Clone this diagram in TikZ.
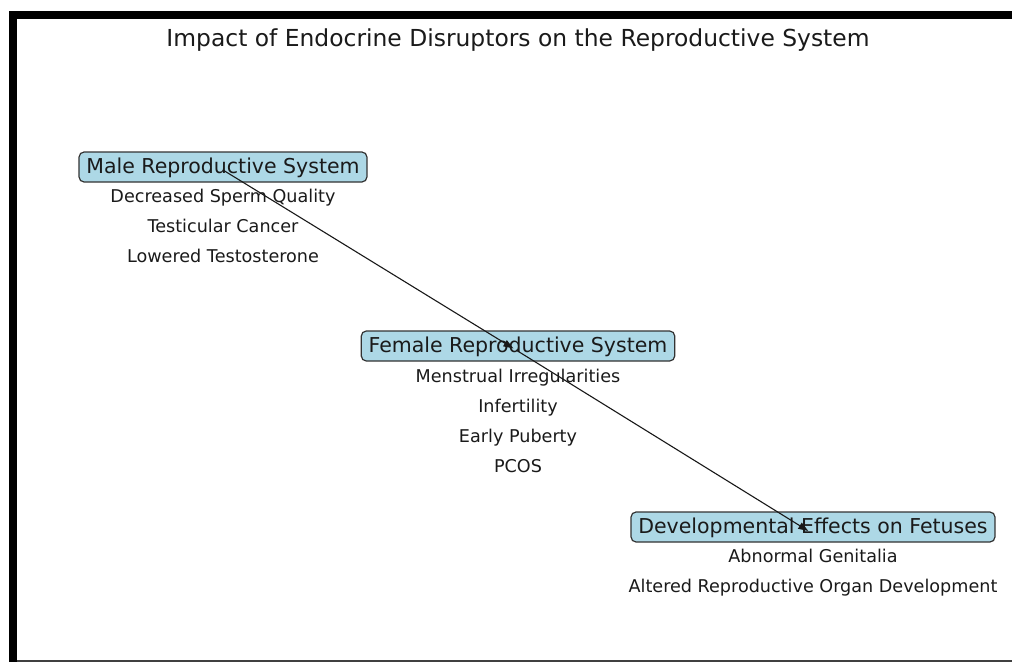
\documentclass[tikz,border=0pt]{standalone}
\usepackage{fontspec}
\setmainfont{DejaVu Sans}
\usetikzlibrary{arrows.meta}
\definecolor{lightblue}{HTML}{ADD8E6}
\definecolor{txt}{HTML}{1A1A1A}
\begin{document}
\begin{tikzpicture}[x=1pt,y=-1pt,
  box/.style={draw=black!80,line width=1.2pt,fill=lightblue,rounded corners=5pt,
    inner xsep=7.3pt,inner ysep=0pt,minimum height=30pt,text=txt,
    font=\fontsize{20.5}{24}\selectfont,text height=15.8pt,text depth=3pt},
  item/.style={inner sep=0pt,text=txt,font=\fontsize{17.6}{21}\selectfont,
    text height=12.8pt,text depth=3.4pt},
  conn/.style={-{Triangle[length=10pt,width=7pt]},line width=1.1pt,black!90}]
\useasboundingbox (0,0) rectangle (1012,662);
\fill[white] (0,0) rectangle (1012,662);
% frame
\fill[black] (9,11) rectangle (1012,19);
\fill[black] (9,11) rectangle (17,662);
\draw[black!75,line width=1.5pt] (17,661) -- (1012,661);
% title
\node[inner sep=0pt,text=txt,font=\fontsize{23.4}{28}\selectfont,text height=17pt,text depth=4.5pt] (title) at (518,40) {Impact of Endocrine Disruptors on the Reproductive System};
% boxes
\node[box] (male) at (223,167) {Male Reproductive System};
\node[item] (m1) at (223,198) {Decreased Sperm Quality};
\node[item] (m2) at (223,228) {Testicular Cancer};
\node[item] (m3) at (223,258) {Lowered Testosterone};
\node[box] (female) at (518,346) {Female Reproductive System};
\node[item] (f1) at (518,378) {Menstrual Irregularities};
\node[item] (f2) at (518,408) {Infertility};
\node[item] (f3) at (518,438) {Early Puberty};
\node[item] (f4) at (518,468) {PCOS};
\node[box] (dev) at (813,527) {Developmental Effects on Fetuses};
\node[item] (d1) at (813,558) {Abnormal Genitalia};
\node[item] (d2) at (813,588) {Altered Reproductive Organ Development};
% connectors
\coordinate (mp) at ([yshift=-3pt]male.center);
\coordinate (fp) at ([xshift=-2pt,yshift=-4pt]female.center);
\coordinate (dp) at ([xshift=-3pt,yshift=-5pt]dev.center);
\draw[conn,shorten >=3pt] (mp) -- (fp);
\draw[conn,shorten >=2pt] (fp) -- (dp);
\end{tikzpicture}
\end{document}
